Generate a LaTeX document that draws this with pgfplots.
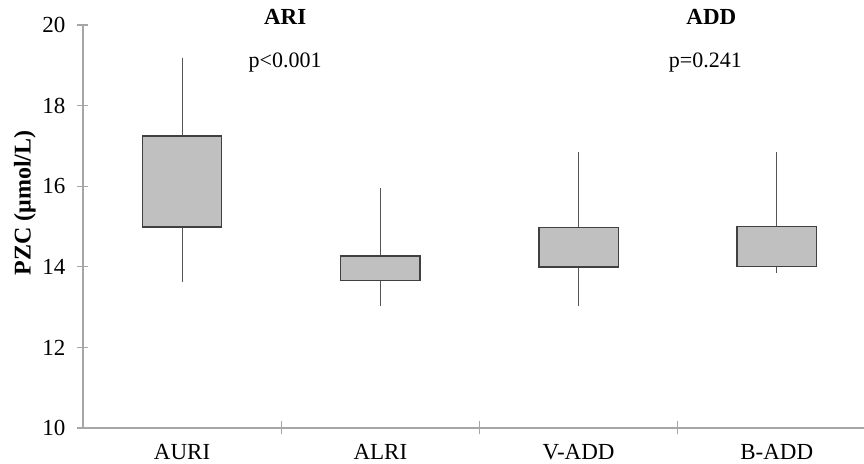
\documentclass[border=0pt]{standalone}
\usepackage{fontspec}
\setmainfont{Liberation Serif}
\usepackage{pgfplots}
\pgfplotsset{compat=1.18}
\definecolor{boxgray}{HTML}{C0C0C0}
\definecolor{boxdraw}{HTML}{404040}
\definecolor{whiskdraw}{HTML}{555555}
\definecolor{axgray}{HTML}{A6A6A6}
\begin{document}
\begin{tikzpicture}[font=\fontsize{11}{13}\selectfont]
\path[use as bounding box] (-41.5pt,-18pt) rectangle (390.5pt,214pt);
\begin{axis}[
  at={(0,0)}, anchor=south west,
  scale only axis, width=390.5pt, height=201.5pt,
  xmin=0.5, xmax=4.44, ymin=10, ymax=20,
  axis x line*=bottom, axis y line*=left,
  axis line style={draw=axgray, line width=0.6pt},
  ytick={10,12,...,20},
  xtick={1,2,3,4},
  xticklabels={AURI,ALRI,V-ADD,B-ADD},
  x tick style={draw=none},
  y tick style={draw=axgray, line width=0.6pt},
  tick align=center,
  major tick length=5.5pt,
  extra x ticks={1.5,2.5,3.5},
  extra x tick labels={},
  extra x tick style={x tick style={draw=axgray, line width=0.6pt}, major tick length=6.5pt},
  /pgf/number format/assume math mode=true,
  ticklabel style={font=\fontsize{11.5}{13}\selectfont},
  yticklabel style={xshift=-2.5pt},
  xticklabel style={yshift=-2pt},
  ylabel={\textbf{PZC (μmol/L)}},
  ylabel style={font=\fontsize{12}{14}\selectfont, at={(ticklabel cs:0.558)}},
  ylabel shift=-3.5pt,
  clip=false,
  unbounded coords=jump,
  whisk/.style={draw=whiskdraw, line width=0.6pt, mark=none},
  bx/.style={fill=boxgray, draw=boxdraw, line width=0.7pt, mark=none},
]
% whiskers (lower whisker to Q1, Q3 to upper whisker)
\addplot[whisk] coordinates {(1,13.62) (1,14.99) (1,nan) (1,17.25) (1,19.18)};
\addplot[whisk] coordinates {(2,13.03) (2,13.66) (2,nan) (2,14.27) (2,15.96)};
\addplot[whisk] coordinates {(3,13.03) (3,13.99) (3,nan) (3,14.98) (3,16.85)};
\addplot[whisk] coordinates {(4,13.85) (4,14.00) (4,nan) (4,15.00) (4,16.84)};
% boxes (Q1 to Q3)
\addplot[bx] coordinates {(0.8,14.99) (1.2,14.99) (1.2,17.25) (0.8,17.25) (0.8,14.99)} -- cycle;
\addplot[bx] coordinates {(1.8,13.66) (2.2,13.66) (2.2,14.27) (1.8,14.27) (1.8,13.66)} -- cycle;
\addplot[bx] coordinates {(2.8,13.99) (3.2,13.99) (3.2,14.98) (2.8,14.98) (2.8,13.99)} -- cycle;
\addplot[bx] coordinates {(3.8,14.00) (4.2,14.00) (4.2,15.00) (3.8,15.00) (3.8,14.00)} -- cycle;
\node[font=\fontsize{11.5}{13}\selectfont\bfseries] at (axis cs:1.52,20.2) {ARI};
\node at (axis cs:1.52,19.08) {p<0.001};
\node[font=\fontsize{11.5}{13}\selectfont\bfseries] at (axis cs:3.67,20.2) {ADD};
\node at (axis cs:3.64,19.08) {p=0.241};
\end{axis}
\end{tikzpicture}
\end{document}
